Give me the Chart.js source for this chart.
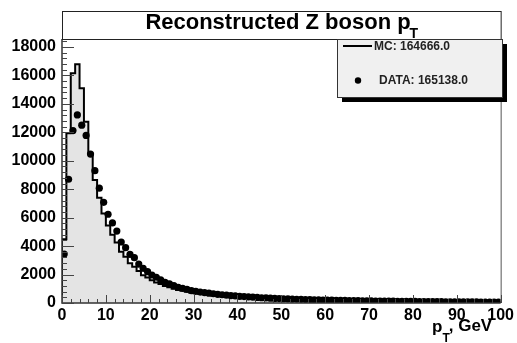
<!DOCTYPE html>
<html>
<head>
<meta charset="utf-8">
<script src="https://cdn.jsdelivr.net/npm/chart.js@4.4.1/dist/chart.umd.min.js"></script>
<style>
  body { margin: 0; background: #fff; }
  canvas { display: block; }
</style>
</head>
<body>
<canvas id="zpt" width="517" height="343"></canvas>
<script>
// pT bins: 1 GeV wide, 0..100
const binEdges = [0, 100];
const yTicks = [0, 2000, 4000, 6000, 8000, 10000, 12000, 14000, 16000, 18000];
const xTicks = [0, 10, 20, 30, 40, 50, 60, 70, 80, 90, 100];

// DATA counts per bin (points)
const dataCounts = [
  3440, 8700, 12120, 13220, 12500, 11780, 10470, 9300, 8070, 7080,
  6240, 5630, 5060, 4290, 3890, 3420, 3190, 2740, 2440, 2200,
  1970, 1810, 1620, 1460, 1340, 1220, 1100, 1030, 960, 870,
  820, 770, 730, 690, 650, 610, 580, 550, 520, 500,
  470, 450, 430, 410, 390, 370, 355, 340, 325, 310,
  300, 288, 276, 265, 255, 245, 236, 228, 220, 212,
  205, 198, 190, 184, 178, 172, 166, 160, 155, 150,
  146, 141, 137, 133, 129, 125, 121, 118, 114, 111,
  108, 105, 102, 99, 96, 94, 91, 89, 86, 84,
  82, 80, 78, 76, 74, 72, 70, 69, 67, 65
];

// MC counts per bin (histogram)
const mcCounts = [
  4480, 11930, 16150, 16780, 15100, 12750, 10500, 8650, 7400, 6300,
  5450, 4800, 4250, 3600, 3250, 2800, 2550, 2250, 1950, 1800,
  1600, 1450, 1330, 1200, 1100, 1000, 920, 860, 790, 730,
  690, 650, 610, 580, 545, 515, 490, 465, 440, 420,
  400, 385, 365, 350, 335, 320, 305, 292, 280, 268,
  258, 248, 238, 229, 220, 212, 204, 197, 190, 183,
  177, 171, 165, 160, 155, 150, 145, 140, 136, 132,
  128, 124, 120, 117, 113, 110, 107, 104, 101, 98,
  96, 93, 91, 88, 86, 84, 82, 80, 78, 76,
  74, 72, 70, 69, 67, 65, 64, 62, 61, 59
];

const legendLabels = ['MC: 164666.0', 'DATA: 165138.0'];

const FONT = '"Liberation Sans", Arial, Helvetica, sans-serif';

// histogram outline: rise at left edge, flat tops, close at right edge
const mcPoints = [{x: binEdges[0], y: 0}];
mcCounts.forEach((v, i) => mcPoints.push({x: binEdges[0] + i, y: v}));
mcPoints.push({x: binEdges[1], y: mcCounts[mcCounts.length - 1]});

const dataPoints = dataCounts.map((v, i) => ({x: binEdges[0] + i + 0.5, y: v}));

const rootDecor = {
  id: 'rootDecor',
  afterDraw(chart) {
    const {ctx, chartArea: a, scales: {x, y}} = chart;
    ctx.save();

    // frame
    ctx.lineWidth = 1;
    ctx.strokeStyle = '#555';
    ctx.beginPath();
    ctx.moveTo(a.right + 0.5, a.top);
    ctx.lineTo(a.right + 0.5, a.bottom);
    ctx.stroke();
    ctx.strokeStyle = '#333';
    ctx.lineWidth = 1.5;
    ctx.beginPath();
    ctx.moveTo(a.left, a.top);
    ctx.lineTo(a.left, a.bottom);
    ctx.lineTo(a.right, a.bottom);
    ctx.stroke();

    // inward ticks
    ctx.lineWidth = 1;
    ctx.strokeStyle = '#444';
    ctx.beginPath();
    for (let v = 0; v <= y.max; v += 400) {
      const py = Math.round(y.getPixelForValue(v)) + 0.5;
      const len = v % 2000 === 0 ? 12 : 5;
      ctx.moveTo(a.left, py);
      ctx.lineTo(a.left + len, py);
    }
    for (let v = x.min; v <= x.max; v += 2) {
      const px = Math.round(x.getPixelForValue(v)) + 0.5;
      const len = v % 10 === 0 ? 8 : 4;
      ctx.moveTo(px, a.bottom);
      ctx.lineTo(px, a.bottom - len);
    }
    ctx.stroke();

    // title box
    ctx.fillStyle = '#fff';
    ctx.fillRect(a.left, 11, a.right - a.left, a.top - 11);
    ctx.strokeStyle = '#222';
    ctx.lineWidth = 1;
    ctx.strokeRect(a.left + 0.5, 11.5, a.right - a.left, a.top - 11);
    ctx.fillStyle = '#000';
    ctx.textBaseline = 'alphabetic';
    ctx.textAlign = 'left';
    ctx.font = 'bold 22px ' + FONT;
    const main = 'Reconstructed Z boson p';
    const tw = ctx.measureText(main).width;
    const tx = 278 - tw / 2;
    ctx.fillText(main, tx, 29);
    ctx.font = 'bold 14px ' + FONT;
    ctx.fillText('T', tx + tw - 1, 38);

    // legend with shadow
    const lx = 337, ly = 39, lw = 165, lh = 58;
    ctx.fillStyle = '#000';
    ctx.fillRect(lx + 5, ly + 5, lw, lh);
    ctx.fillStyle = '#f0f0f0';
    ctx.fillRect(lx, ly, lw, lh);
    ctx.strokeStyle = '#333';
    ctx.strokeRect(lx + 0.5, ly + 0.5, lw, lh);

    ctx.strokeStyle = '#000';
    ctx.lineWidth = 2;
    ctx.beginPath();
    ctx.moveTo(343, 46);
    ctx.lineTo(372, 46);
    ctx.stroke();
    ctx.beginPath();
    ctx.arc(358, 80.5, 3.2, 0, Math.PI * 2);
    ctx.fillStyle = '#000';
    ctx.fill();

    ctx.fillStyle = '#222';
    ctx.font = 'bold 12px ' + FONT;
    ctx.textBaseline = 'middle';
    ctx.fillText(legendLabels[0], 374, 46.5);
    ctx.fillText(legendLabels[1], 379, 81);

    // x axis title
    ctx.fillStyle = '#000';
    ctx.textBaseline = 'alphabetic';
    ctx.font = 'bold 17px ' + FONT;
    ctx.fillText('p', 432, 332);
    const pw = ctx.measureText('p').width;
    ctx.font = 'bold 12px ' + FONT;
    ctx.fillText('T', 432 + pw, 342);
    const sw = ctx.measureText('T').width;
    ctx.font = 'bold 17px ' + FONT;
    ctx.fillText(', GeV', 432 + pw + sw - 1, 331);

    ctx.restore();
  }
};

new Chart(document.getElementById('zpt').getContext('2d'), {
  type: 'scatter',
  data: {
    datasets: [
      {
        label: 'DATA',
        data: dataPoints,
        pointRadius: 3.6,
        pointBackgroundColor: '#000',
        pointBorderWidth: 0,
        showLine: false,
        order: 0
      },
      {
        label: 'MC',
        data: mcPoints,
        showLine: true,
        stepped: 'before',
        borderColor: '#000',
        borderWidth: 2,
        backgroundColor: '#e4e4e4',
        fill: 'origin',
        pointRadius: 0,
        order: 1
      }
    ]
  },
  options: {
    responsive: false,
    devicePixelRatio: 1,
    animation: false,
    layout: { padding: { top: 39, right: 15, left: 0, bottom: 0 } },
    plugins: {
      legend: { display: false },
      tooltip: { enabled: false },
      title: { display: false }
    },
    scales: {
      x: {
        type: 'linear',
        min: binEdges[0],
        max: binEdges[1],
        afterFit(scale) { scale.height = 40; },
        afterBuildTicks(scale) { scale.ticks = xTicks.map(v => ({value: v})); },
        grid: { display: false, drawTicks: false },
        border: { display: false },
        ticks: {
          color: '#000',
          padding: 3,
          maxRotation: 0,
          autoSkip: false,
          font: { family: FONT, size: 16, weight: 'bold' }
        }
      },
      y: {
        min: 0,
        max: 18560,
        afterFit(scale) { scale.width = 62; },
        afterBuildTicks(scale) { scale.ticks = yTicks.map(v => ({value: v})); },
        grid: { display: false, drawTicks: false },
        border: { display: false },
        ticks: {
          color: '#000',
          padding: 6,
          font: { family: FONT, size: 16, weight: 'bold' },
          callback: v => String(v)
        }
      }
    }
  },
  plugins: [rootDecor]
});
</script>
</body>
</html>
